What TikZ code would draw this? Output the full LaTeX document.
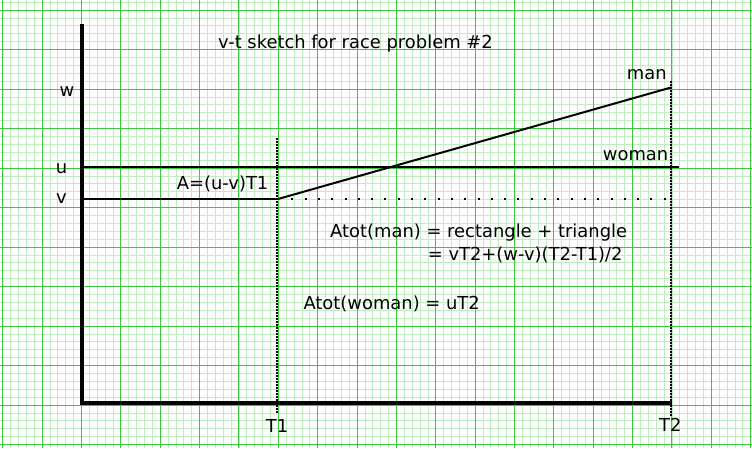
\documentclass[tikz,border=0pt]{standalone}
\usepackage{fontspec}
\setmainfont{DejaVu Sans}
\definecolor{gmajor}{RGB}{60,200,60}
\definecolor{gminor}{RGB}{190,238,190}
\tikzset{
  lbl/.style={inner sep=0pt, anchor=base west, font=\fontsize{17.9}{21}\selectfont},
  lblc/.style={inner sep=0pt, anchor=base, font=\fontsize{17.9}{21}\selectfont},
  axisline/.style={line width=3.6pt, black},
  plotline/.style={line width=2pt, black},
  vdots/.style={line width=1.6pt, black, dash pattern=on 1.5pt off 1.5pt},
  hdots/.style={line width=2pt, black, dash pattern=on 2pt off 11.3pt},
}
\begin{document}
\begin{tikzpicture}[x=1pt,y=-1pt]
\useasboundingbox (0,0) rectangle (752,448);
\fill[white] (0,0) rectangle (752,448);
% minor grid
\foreach \i in {-1,...,96}{
  \pgfmathsetmacro{\xx}{2.7+7.874*\i}
  \draw[gminor, line width=0.8pt] (\xx,0) -- (\xx,448);
}
\foreach \j in {-2,...,56}{
  \pgfmathsetmacro{\yy}{10+7.9*\j}
  \draw[gminor, line width=0.8pt] (0,\yy) -- (752,\yy);
}
% major grid
\foreach \i in {0,...,19}{
  \pgfmathsetmacro{\xx}{2.7+39.37*\i}
  \draw[gmajor, line width=1pt] (\xx,0) -- (\xx,448);
}
\foreach \j in {0,...,11}{
  \pgfmathsetmacro{\yy}{10+39.5*\j}
  \draw[gmajor, line width=1pt] (0,\yy) -- (752,\yy);
}
% coordinates
\coordinate (ytop) at (81.7,24);
\coordinate (O) at (81.7,403);
\coordinate (xend) at (671.7,403);
\coordinate (uL) at (81.7,167);
\coordinate (uR) at (679,167);
\coordinate (vL) at (81.7,199);
\coordinate (P1) at (278,199);
\coordinate (P2) at (671,87.5);
\coordinate (d1) at (291.3,199);
\coordinate (d2) at (668,199);
\coordinate (t1top) at (277,138);
\coordinate (t1bot) at (277,413);
\coordinate (t2top) at (671,81);
\coordinate (t2bot) at (671,416);
% dotted lines
\draw[vdots] (t1top) -- (t1bot);
\draw[vdots] (t2top) -- (t2bot);
\draw[hdots] (d1) -- (d2);
% axes
\draw[axisline] (ytop) -- (O) -- (xend);
% lines
\draw[plotline] (uL) -- (uR);
\draw[plotline] (vL) -- (P1);
\draw[plotline] (P1) -- (P2);
% labels
\node[lbl] (title) at (218,48.3) {v-t sketch for race problem \#2};
\node[lblc] (w) at (67,96) {w};
\node[lblc] (u) at (61.5,173) {u};
\node[lblc] (v) at (61.5,203) {v};
\node[lbl] (A) at (176.7,189) {A=(u-v)T1};
\node[lbl] (man) at (626.7,79) {man};
\node[lbl] (woman) at (602.7,160) {woman};
\node[lbl] (am1) at (330,237.7) {Atot(man) = rectangle + triangle};
\node[lbl] (am2) at (427.7,260) {= vT2+(w-v)(T2-T1)/2};
\node[lbl] (aw) at (303.3,309) {Atot(woman) = uT2};
\node[lblc] (T1) at (277,432.7) {T1};
\node[lblc] (T2) at (670.3,431.3) {T2};
\end{tikzpicture}
\end{document}
